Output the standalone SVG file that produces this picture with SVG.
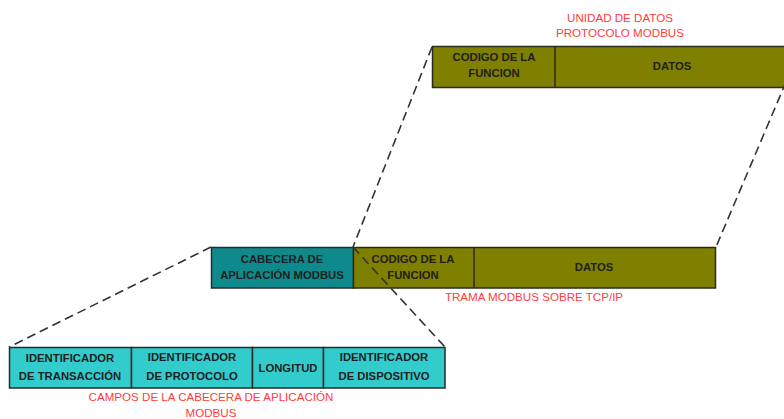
<svg xmlns="http://www.w3.org/2000/svg" width="784" height="419" viewBox="0 0 784 419">
<style>
.olive{fill:#808000;stroke:#2a2a1a;stroke-width:1.5}
.teal{fill:#0f8a8c;stroke:#2a2a2a;stroke-width:1.5}
.cyan{fill:#33cccc;stroke:#2a2a2a;stroke-width:1.5}
.t{font-family:"Liberation Sans",Arial,sans-serif;font-weight:bold;font-size:11.3px;fill:#1e1e1e;text-anchor:middle}
.r{font-family:"Liberation Sans",Arial,sans-serif;font-size:11.6px;fill:#ff3b3b;text-anchor:middle}
.d{fill:none;stroke:#333;stroke-width:1.6;stroke-dasharray:9,5}
</style>
<rect width="784" height="419" fill="#fff"/>
<g id="pdu">
<rect class="olive" x="432.5" y="46.5" width="360" height="41"/>
<line x1="555" y1="46.5" x2="555" y2="87.5" stroke="#2a2a1a" stroke-width="1.5"/>
<text class="t" x="494" y="61">CODIGO DE LA</text>
<text class="t" x="494" y="77">FUNCION</text>
<text class="t" x="672" y="70">DATOS</text>
</g>
<g id="pdu-label">
<text class="r" x="620" y="22">UNIDAD DE DATOS</text>
<text class="r" x="620" y="37">PROTOCOLO MODBUS</text>
</g>
<g id="frame">
<rect class="teal" x="211.5" y="247.5" width="142" height="40.5"/>
<rect class="olive" x="353.5" y="247.5" width="362" height="40.5"/>
<line x1="474" y1="247.5" x2="474" y2="288" stroke="#2a2a1a" stroke-width="1.5"/>
<text class="t" x="282" y="263">CABECERA DE</text>
<text class="t" x="282" y="279">APLICACIÓN MODBUS</text>
<text class="t" x="413" y="263">CODIGO DE LA</text>
<text class="t" x="413" y="279">FUNCION</text>
<text class="t" x="594" y="271">DATOS</text>
</g>
<g id="frame-label">
<text class="r" x="534" y="301">TRAMA MODBUS SOBRE TCP/IP</text>
</g>
<g id="header">
<rect class="cyan" x="9.5" y="347.5" width="122" height="40.5"/>
<rect class="cyan" x="131.5" y="347.5" width="121" height="40.5"/>
<rect class="cyan" x="252.5" y="347.5" width="71" height="40.5"/>
<rect class="cyan" x="323.5" y="347.5" width="121.5" height="40.5"/>
<text class="t" x="70" y="362">IDENTIFICADOR</text>
<text class="t" x="70" y="380">DE TRANSACCIÓN</text>
<text class="t" x="192" y="361">IDENTIFICADOR</text>
<text class="t" x="192" y="380">DE PROTOCOLO</text>
<text class="t" x="288" y="372">LONGITUD</text>
<text class="t" x="384" y="361">IDENTIFICADOR</text>
<text class="t" x="384" y="380">DE DISPOSITIVO</text>
</g>
<g id="header-label">
<text class="r" x="211" y="401">CAMPOS DE LA CABECERA DE APLICACIÓN</text>
<text class="r" x="211" y="417">MODBUS</text>
</g>
<g id="connectors">
<line class="d" x1="432" y1="47" x2="353" y2="247"/>
<line class="d" x1="786" y1="82" x2="716" y2="247"/>
<line class="d" x1="211" y1="247" x2="9" y2="347"/>
<line class="d" x1="353" y1="247" x2="445" y2="347"/>
</g>
</svg>
